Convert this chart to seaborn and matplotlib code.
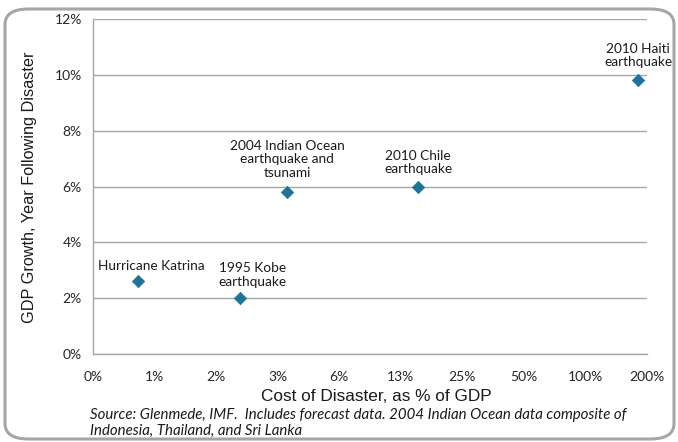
import matplotlib
matplotlib.use("Agg")
import matplotlib.pyplot as plt
from matplotlib.patches import FancyBboxPatch
import seaborn as sns
import pandas as pd

# Disaster cost vs. GDP growth in the following year
events = ["Hurricane Katrina", "1995 Kobe\nearthquake",
          "2004 Indian Ocean\nearthquake and\ntsunami",
          "2010 Chile\nearthquake", "2010 Haiti\nearthquake"]
cost_pct = [0.65, 2.05, 3.47, 15.2, 181.0]      # cost of disaster, % of GDP
growth_pct = [2.6, 2.0, 5.8, 6.0, 9.8]          # GDP growth, year following disaster

# log2 cost axis, doubling from 0.390625% up to 200%
x_ticks = [0.390625, 0.78125, 1.5625, 3.125, 6.25, 12.5, 25, 50, 100, 200]
x_tick_labels = ["0%", "1%", "2%", "3%", "6%", "13%", "25%", "50%", "100%", "200%"]
y_ticks = [0, 2, 4, 6, 8, 10, 12]
y_tick_labels = ["0%", "2%", "4%", "6%", "8%", "10%", "12%"]

df = pd.DataFrame({"event": events, "cost": cost_pct, "growth": growth_pct})

sns.set_theme(style="white")
plt.rcParams["font.family"] = ["Lato", "DejaVu Sans"]

fig = plt.figure(figsize=(6.78, 4.42), dpi=100)
ax = fig.add_axes([93 / 678, 1 - 354 / 442, 554 / 678, 335 / 442])

# rounded frame around the whole figure
frame = FancyBboxPatch((5 / 678, 3 / 442), 669 / 678, 430 / 442,
                       boxstyle="round,pad=0,rounding_size=0.035",
                       transform=fig.transFigure, facecolor="none",
                       edgecolor="#a6a6a6", linewidth=2.2, zorder=0)
fig.patches.append(frame)

sns.scatterplot(data=df, x="cost", y="growth", marker="D", s=40,
                color="#1f7396", edgecolor="#1f7396", linewidth=0.5,
                ax=ax, zorder=3, legend=False)

ax.set_xscale("log", base=2)
ax.set_xlim(x_ticks[0], x_ticks[-1])
ax.set_ylim(0, 12)
ax.set_xticks(x_ticks)
ax.set_xticklabels(x_tick_labels)
ax.minorticks_off()
ax.set_yticks(y_ticks)
ax.set_yticklabels(y_tick_labels)

grid_c = "#a6a6a6"
ax.yaxis.grid(True, color=grid_c, linewidth=1.0)
ax.xaxis.grid(False)
for side in ["top", "right"]:
    ax.spines[side].set_visible(False)
for side in ["left", "bottom"]:
    ax.spines[side].set_color(grid_c)
    ax.spines[side].set_linewidth(1.0)
ax.tick_params(axis="both", which="major", length=4, width=1.0, color=grid_c,
               labelsize=10, labelcolor="#262626", direction="out")
ax.tick_params(axis="x", pad=8)
ax.tick_params(axis="y", pad=4)

ax.set_xlabel("Cost of Disaster, as % of GDP", family=["Liberation Sans"],
              fontsize=12.4, color="#1a1a1a", va="center")
ax.xaxis.set_label_coords(0.511, -0.128)
ax.set_ylabel("GDP Growth, Year Following Disaster", family=["Liberation Sans"],
              fontsize=11.7, color="#1a1a1a", va="center")
ax.yaxis.set_label_coords(-0.114, 0.4985)

# labels placed relative to each marker (pixels)
offsets = [(13, 15), (12, 23), (0, 33), (0, 24), (0, 25)]
for name, cx, gy, (dx, dy) in zip(events, cost_pct, growth_pct, offsets):
    ax.annotate(name, (cx, gy), xytext=(dx, dy), textcoords="offset pixels",
                ha="center", va="center", fontsize=9.8, color="#1a1a1a",
                linespacing=1.15, zorder=4)

fig.text(90 / 678, 1 - 423 / 442,
         "Source: Glenmede, IMF.  Includes forecast data. 2004 Indian Ocean data composite of\n"
         "Indonesia, Thailand, and Sri Lanka",
         ha="left", va="center", fontsize=10.8, style="italic", color="#1a1a1a",
         linespacing=1.2)

fig.savefig("out.png", dpi=100, facecolor="white")
